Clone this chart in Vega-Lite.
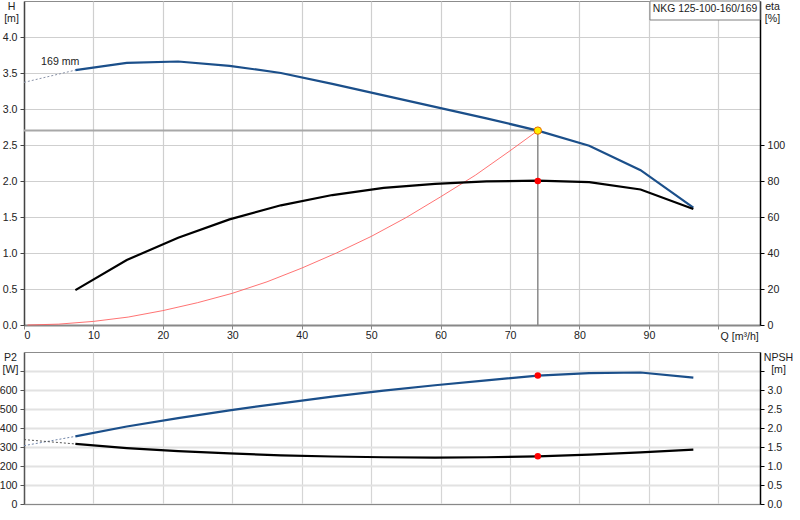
{
  "$schema": "https://vega.github.io/schema/vega-lite/v6.json",
  "padding": {"left": -2, "top": 0, "right": 0, "bottom": 0},
  "background": "white",
  "spacing": 27,
  "bounds": "flush",
  "config": {
    "font": "Liberation Sans",
    "view": {"stroke": "#8c8c8c", "strokeWidth": 1},
    "axis": {
      "labelFont": "Liberation Sans", "labelFontSize": 10.6, "labelColor": "#222",
      "titleFont": "Liberation Sans", "titleFontSize": 10.6, "titleFontWeight": "normal", "titleColor": "#222",
      "tickSize": 4, "labelPadding": 3, "titleLineHeight": 12
    }
  },
  "datasets": {
    "curve": [
      {"Q": 7.4, "H": 3.54, "eta": 19.4, "P2": 356, "NPSH": 1.58},
      {"Q": 14.8, "H": 3.64, "eta": 36.1, "P2": 408, "NPSH": 1.47},
      {"Q": 22.2, "H": 3.66, "eta": 48.5, "P2": 452, "NPSH": 1.39},
      {"Q": 29.6, "H": 3.6, "eta": 58.7, "P2": 493, "NPSH": 1.33},
      {"Q": 37.0, "H": 3.5, "eta": 66.5, "P2": 530, "NPSH": 1.28},
      {"Q": 44.4, "H": 3.35, "eta": 72.2, "P2": 565, "NPSH": 1.25},
      {"Q": 51.8, "H": 3.19, "eta": 76.2, "P2": 597, "NPSH": 1.23},
      {"Q": 59.2, "H": 3.03, "eta": 78.4, "P2": 625, "NPSH": 1.22},
      {"Q": 66.6, "H": 2.87, "eta": 79.8, "P2": 651, "NPSH": 1.23},
      {"Q": 74.0, "H": 2.7, "eta": 80.2, "P2": 676, "NPSH": 1.255},
      {"Q": 81.4, "H": 2.49, "eta": 79.4, "P2": 689, "NPSH": 1.3},
      {"Q": 88.8, "H": 2.15, "eta": 75.3, "P2": 692, "NPSH": 1.36},
      {"Q": 96.4, "H": 1.63, "eta": 64.4, "P2": 665, "NPSH": 1.43}
    ],
    "ext": [
      {"Q": 0, "H": 3.37, "P2": 307, "NPSH": 1.695, "label": ""},
      {"Q": 7.4, "H": 3.54, "P2": 356, "NPSH": 1.58, "label": "169 mm"}
    ],
    "sys": [
      {"Q": 0.5, "H": 0.0},
      {"Q": 5, "H": 0.012},
      {"Q": 10, "H": 0.05},
      {"Q": 15, "H": 0.11},
      {"Q": 20, "H": 0.2},
      {"Q": 25, "H": 0.31},
      {"Q": 30, "H": 0.44},
      {"Q": 35, "H": 0.6},
      {"Q": 40, "H": 0.79},
      {"Q": 45, "H": 1.0},
      {"Q": 50, "H": 1.23},
      {"Q": 55, "H": 1.49},
      {"Q": 60, "H": 1.78},
      {"Q": 65, "H": 2.08},
      {"Q": 70, "H": 2.42},
      {"Q": 74, "H": 2.7}
    ],
    "op": [
      {"Q": 74, "H": 2.7, "eta": 80, "P2": 676, "NPSH": 1.255, "title": "NKG 125-100-160/169"}
    ]
  },
  "vconcat": [
    {
      "width": 736,
      "height": 324,
      "encoding": {
        "x": {
          "field": "Q", "type": "quantitative",
          "scale": {"domain": [0, 106], "nice": false, "zero": false},
          "axis": {
            "values": [0, 10, 20, 30, 40, 50, 60, 70, 80, 90, 100],
            "labelExpr": "datum.value == 100 ? '' : datum.label",
            "grid": true, "gridColor": "#cfcfcf", "gridWidth": 1.2,
            "domainColor": "#888", "domainWidth": 2, "tickColor": "#888",
            "labelPadding": 1,
            "title": "Q [m³/h]", "titleAngle": 0, "titleAlign": "left", "titleBaseline": "middle",
            "titleX": 696, "titleY": 11
          }
        }
      },
      "layer": [
        {
          "encoding": {
            "y": {
              "field": "H", "type": "quantitative",
              "scale": {"domain": [0, 4.5], "nice": false, "zero": false},
              "axis": {
                "values": [0, 0.5, 1, 1.5, 2, 2.5, 3, 3.5, 4],
                "format": ".1f",
                "grid": true, "gridColor": "#cfcfcf", "gridWidth": 1.2,
                "domainColor": "#444", "domainWidth": 1.5, "tickColor": "#444",
                "title": ["H", "[m]"], "titleAngle": 0, "titleAlign": "center", "titleBaseline": "top",
                "titleX": -13, "titleY": 0
              }
            }
          },
          "layer": [
            {
              "data": {"name": "op"},
              "mark": {"type": "rule", "color": "#a8a8a8", "strokeWidth": 2},
              "encoding": {"x": {"datum": 0}, "x2": {"field": "Q"}, "y": {"field": "H", "type": "quantitative"}}
            },
            {
              "data": {"name": "op"},
              "mark": {"type": "rule", "color": "#8a8a8a", "strokeWidth": 1.5},
              "encoding": {"y": {"datum": 0}, "y2": {"field": "H"}}
            },
            {
              "data": {"name": "sys"},
              "mark": {"type": "line", "color": "#ff5a5a", "strokeWidth": 1, "opacity": 0.85},
              "encoding": {}
            },
            {
              "data": {"name": "ext"},
              "mark": {"type": "line", "color": "#8a93a8", "strokeWidth": 1, "strokeDash": [2, 2]},
              "encoding": {}
            },
            {
              "data": {"name": "curve"},
              "mark": {"type": "line", "color": "#1b4f8a", "strokeWidth": 2.2},
              "encoding": {}
            },
            {
              "data": {"name": "op"},
              "mark": {"type": "point", "filled": true, "fill": "#ffee00", "stroke": "#e86a00", "strokeWidth": 1, "size": 55, "opacity": 1},
              "encoding": {}
            },
            {
              "data": {"name": "ext"},
              "mark": {"type": "text", "align": "right", "baseline": "middle", "dx": 4, "dy": -8, "fontSize": 10.6, "color": "#222"},
              "encoding": {"text": {"field": "label"}}
            },
            {
              "data": {"name": "op"},
              "mark": {"type": "rect", "fill": "white", "stroke": "#808080", "strokeWidth": 1},
              "encoding": {
                "x": {"datum": 90.15, "type": "quantitative"},
                "x2": {"datum": 106},
                "y": {"datum": 4.236, "type": "quantitative"},
                "y2": {"datum": 4.5}
              }
            },
            {
              "data": {"name": "op"},
              "mark": {"type": "text", "align": "left", "baseline": "middle", "fontSize": 10.4, "color": "#222"},
              "encoding": {
                "x": {"datum": 90.55, "type": "quantitative"},
                "y": {"datum": 4.39, "type": "quantitative"},
                "text": {"field": "title"}
              }
            }
          ]
        },
        {
          "encoding": {
            "y": {
              "field": "eta", "type": "quantitative",
              "scale": {"domain": [0, 180], "nice": false, "zero": false},
              "axis": {
                "orient": "right",
                "values": [0, 20, 40, 60, 80, 100],
                "grid": false,
                "domainColor": "#000", "domainWidth": 1.5, "tickColor": "#000",
                "title": ["eta", "[%]"], "titleAngle": 0, "titleAlign": "center", "titleBaseline": "top",
                "titleX": 12, "titleY": 0
              }
            }
          },
          "layer": [
            {
              "data": {"name": "curve"},
              "mark": {"type": "line", "color": "#000", "strokeWidth": 2.2},
              "encoding": {}
            },
            {
              "data": {"name": "op"},
              "mark": {"type": "point", "filled": true, "color": "#ff0000", "size": 42, "opacity": 1},
              "encoding": {}
            }
          ]
        }
      ],
      "resolve": {"scale": {"y": "independent"}}
    },
    {
      "width": 736,
      "height": 152,
      "encoding": {
        "x": {
          "field": "Q", "type": "quantitative",
          "scale": {"domain": [0, 106], "nice": false, "zero": false},
          "axis": {
            "values": [0, 10, 20, 30, 40, 50, 60, 70, 80, 90, 100],
            "labels": false, "ticks": false,
            "grid": true, "gridColor": "#d5d5d5", "gridWidth": 1.2,
            "domainColor": "#888", "domainWidth": 1,
            "title": null
          }
        }
      },
      "layer": [
        {
          "encoding": {
            "y": {
              "field": "P2", "type": "quantitative",
              "scale": {"domain": [0, 800], "nice": false, "zero": false},
              "axis": {
                "values": [0, 100, 200, 300, 400, 500, 600, 700],
                "labelExpr": "datum.value == 700 ? '' : datum.label",
                "grid": true, "gridColor": "#e2e2e2", "gridWidth": 2,
                "domainColor": "#555", "domainWidth": 1.5, "tickColor": "#555",
                "title": ["P2", "[W]"], "titleAngle": 0, "titleAlign": "center", "titleBaseline": "top",
                "titleX": -14, "titleY": 0
              }
            }
          },
          "layer": [
            {
              "data": {"name": "ext"},
              "mark": {"type": "line", "color": "#6f84a8", "strokeWidth": 1, "strokeDash": [2, 2]},
              "encoding": {}
            },
            {
              "data": {"name": "curve"},
              "mark": {"type": "line", "color": "#1b4f8a", "strokeWidth": 2.2},
              "encoding": {}
            },
            {
              "data": {"name": "op"},
              "mark": {"type": "point", "filled": true, "color": "#ff0000", "size": 42, "opacity": 1},
              "encoding": {}
            }
          ]
        },
        {
          "encoding": {
            "y": {
              "field": "NPSH", "type": "quantitative",
              "scale": {"domain": [0, 4], "nice": false, "zero": false},
              "axis": {
                "orient": "right",
                "values": [0, 0.5, 1, 1.5, 2, 2.5, 3, 3.5],
                "format": ".1f",
                "labelExpr": "datum.value == 3.5 ? '' : datum.label",
                "grid": false,
                "domainColor": "#000", "domainWidth": 1.5, "tickColor": "#000",
                "title": ["NPSH", "[m]"], "titleAngle": 0, "titleAlign": "center", "titleBaseline": "top",
                "titleX": 18, "titleY": 0
              }
            }
          },
          "layer": [
            {
              "data": {"name": "ext"},
              "mark": {"type": "line", "color": "#555", "strokeWidth": 1, "strokeDash": [2, 2]},
              "encoding": {}
            },
            {
              "data": {"name": "curve"},
              "mark": {"type": "line", "color": "#000", "strokeWidth": 2.2},
              "encoding": {}
            },
            {
              "data": {"name": "op"},
              "mark": {"type": "point", "filled": true, "color": "#ff0000", "size": 42, "opacity": 1},
              "encoding": {}
            }
          ]
        }
      ],
      "resolve": {"scale": {"y": "independent"}}
    }
  ]
}
